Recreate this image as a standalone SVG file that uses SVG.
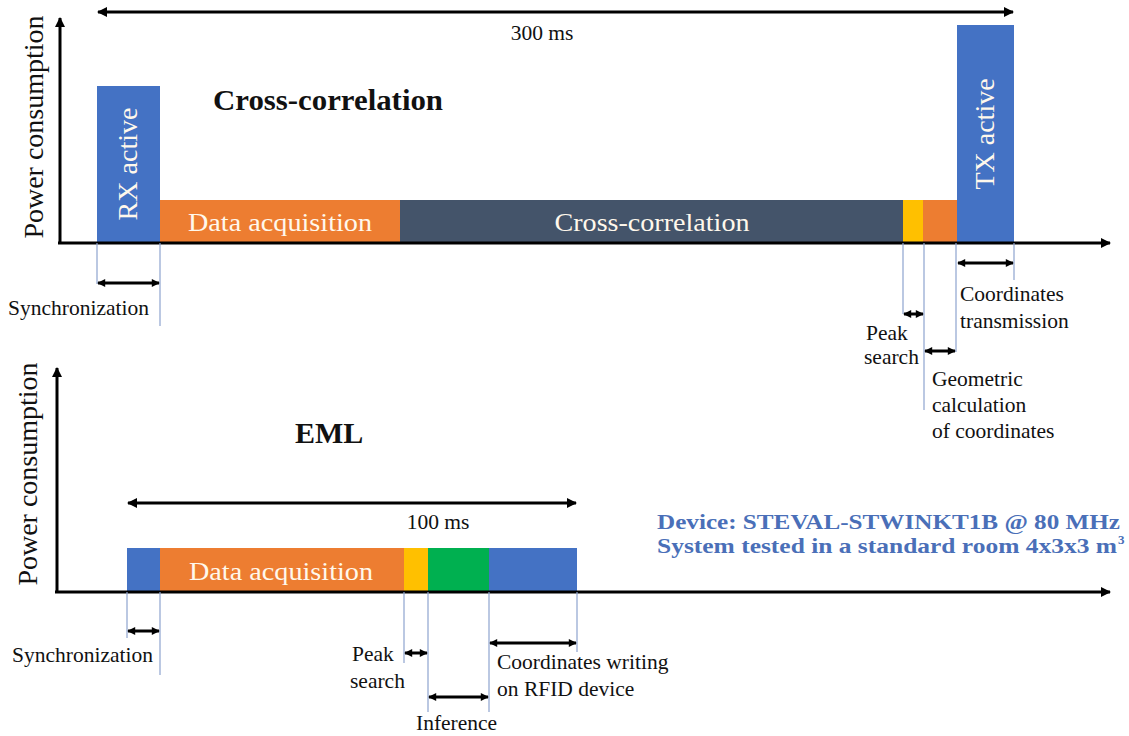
<svg xmlns="http://www.w3.org/2000/svg" width="1129" height="736" viewBox="0 0 1129 736">
<style>
  text { font-family: "Liberation Serif", "Times New Roman", serif; fill: #111; }
  .lbl { font-size: 21.5px; }
  .box { font-size: 26px; fill: #FFF8EC; }
  .vbox { font-size: 28px; fill: #FFF8EC; }
  .pc { font-size: 28px; }
  .ttl { font-size: 30px; font-weight: bold; }
  .axis { stroke: #000; stroke-width: 3; fill: none; }
  .dim { stroke: #000; stroke-width: 3; fill: none; marker-start: url(#ah); marker-end: url(#ah); }
  .big { stroke: #000; stroke-width: 3; fill: none; marker-start: url(#ahb); marker-end: url(#ahb); }
  .guide { stroke: #8EA3CF; stroke-width: 1.2; fill: none; }
  .blue { fill: #4472C4; } .orange { fill: #ED7D31; } .dark { fill: #44546A; }
  .yellow { fill: #FFC000; } .green { fill: #00B050; }
  .info { font-size: 22px; font-weight: bold; fill: #4A6FB8; }
</style>
<defs>
  <marker id="ah" viewBox="0 0 10 10" refX="9" refY="5" markerWidth="9" markerHeight="8" markerUnits="userSpaceOnUse" orient="auto-start-reverse">
    <path d="M0,0 L10,5 L0,10 z" fill="#000"/>
  </marker>
  <marker id="ahb" viewBox="0 0 10 10" refX="9" refY="5" markerWidth="12" markerHeight="10" markerUnits="userSpaceOnUse" orient="auto-start-reverse">
    <path d="M0,0 L10,5 L0,10 z" fill="#000"/>
  </marker>
  <marker id="ax" viewBox="0 0 10 10" refX="9" refY="5" markerWidth="12" markerHeight="10" markerUnits="userSpaceOnUse" orient="auto">
    <path d="M0,0 L10,5 L0,10 z" fill="#000"/>
  </marker>
</defs>

<!-- Top chart -->
<g id="top-bars">
  <rect class="blue" x="97" y="86" width="63" height="157"/>
  <rect class="orange" x="160" y="200" width="241" height="43"/>
  <rect class="dark" x="400" y="200" width="503" height="43"/>
  <rect class="yellow" x="903" y="200" width="21" height="43"/>
  <rect class="orange" x="923" y="200" width="34" height="43"/>
  <rect class="blue" x="957" y="25" width="57" height="218"/>
  <text class="vbox" transform="translate(137,164) rotate(-90)" text-anchor="middle">RX active</text>
  <text class="box" x="280" y="231" text-anchor="middle" textLength="184" lengthAdjust="spacingAndGlyphs">Data acquisition</text>
  <text class="box" x="652" y="231" text-anchor="middle" textLength="195" lengthAdjust="spacingAndGlyphs">Cross-correlation</text>
  <text class="vbox" transform="translate(994,134) rotate(-90)" text-anchor="middle">TX active</text>
</g>
<g id="top-axes">
  <line class="axis" x1="60" y1="243" x2="60" y2="18" marker-end="url(#ax)"/>
  <line class="axis" x1="58" y1="243" x2="1110" y2="243" marker-end="url(#ax)"/>
  <text class="pc" transform="translate(43,127) rotate(-90)" text-anchor="middle">Power consumption</text>
  <text class="ttl" x="213" y="110" textLength="230" lengthAdjust="spacingAndGlyphs">Cross-correlation</text>
</g>

<!-- Bottom chart -->
<g id="bottom-bars">
  <rect class="blue" x="127" y="548" width="34" height="44"/>
  <rect class="orange" x="160" y="548" width="245" height="44"/>
  <rect class="yellow" x="404" y="548" width="25" height="44"/>
  <rect class="green" x="428" y="548" width="62" height="44"/>
  <rect class="blue" x="489" y="548" width="88" height="44"/>
  <text class="box" x="281" y="580" text-anchor="middle" textLength="184" lengthAdjust="spacingAndGlyphs">Data acquisition</text>
</g>
<g id="bottom-axes">
  <line class="axis" x1="57" y1="592" x2="57" y2="368" marker-end="url(#ax)"/>
  <line class="axis" x1="55" y1="592" x2="1110" y2="592" marker-end="url(#ax)"/>
  <text class="pc" transform="translate(37,474) rotate(-90)" text-anchor="middle">Power consumption</text>
  <text class="ttl" x="295" y="443">EML</text>
</g>

<g id="info">
  <text class="info" x="657" y="529" textLength="463" lengthAdjust="spacingAndGlyphs">Device: STEVAL-STWINKT1B @ 80 MHz</text>
  <text class="info" x="657" y="553" textLength="460" lengthAdjust="spacingAndGlyphs">System tested in a standard room 4x3x3 m</text>
  <text class="info" x="1118" y="544" style="font-size:13px">3</text>
</g>

<!-- connectors -->
<g id="connectors">
  <line class="big" x1="98" y1="12" x2="1013" y2="12"/>
  <line class="guide" x1="97" y1="243" x2="97" y2="284"/>
  <line class="guide" x1="160" y1="243" x2="160" y2="326"/>
  <line class="dim" x1="98" y1="283" x2="159" y2="283"/>
  <line class="guide" x1="903" y1="243" x2="903" y2="314"/>
  <line class="guide" x1="924" y1="243" x2="924" y2="410"/>
  <line class="guide" x1="956" y1="243" x2="956" y2="352"/>
  <line class="guide" x1="1014" y1="243" x2="1014" y2="280"/>
  <line class="dim" x1="904" y1="314" x2="923" y2="314"/>
  <line class="dim" x1="925" y1="351" x2="955" y2="351"/>
  <line class="dim" x1="958" y1="263" x2="1013" y2="263"/>
  <line class="big" x1="128" y1="503" x2="576" y2="503"/>
  <line class="guide" x1="127" y1="592" x2="127" y2="638"/>
  <line class="guide" x1="160" y1="592" x2="160" y2="675"/>
  <line class="dim" x1="128" y1="631" x2="159" y2="631"/>
  <line class="guide" x1="404" y1="592" x2="404" y2="663"/>
  <line class="guide" x1="428" y1="592" x2="428" y2="712"/>
  <line class="guide" x1="489" y1="592" x2="489" y2="712"/>
  <line class="guide" x1="577" y1="592" x2="577" y2="652"/>
  <line class="dim" x1="405" y1="653" x2="427" y2="653"/>
  <line class="dim" x1="429" y1="697" x2="488" y2="697"/>
  <line class="dim" x1="490" y1="643" x2="576" y2="643"/>
</g>

<g id="labels">
  <text class="lbl" x="542" y="40" text-anchor="middle">300 ms</text>
  <text class="lbl" x="8" y="315">Synchronization</text>
  <text class="lbl" x="960" y="301">Coordinates</text>
  <text class="lbl" x="960" y="328">transmission</text>
  <text class="lbl" x="866" y="340">Peak</text>
  <text class="lbl" x="864" y="364">search</text>
  <text class="lbl" x="932" y="386">Geometric</text>
  <text class="lbl" x="932" y="412">calculation</text>
  <text class="lbl" x="932" y="438">of coordinates</text>
  <text class="lbl" x="438" y="529" text-anchor="middle">100 ms</text>
  <text class="lbl" x="12" y="662">Synchronization</text>
  <text class="lbl" x="352" y="661">Peak</text>
  <text class="lbl" x="350" y="688">search</text>
  <text class="lbl" x="416" y="730">Inference</text>
  <text class="lbl" x="497" y="669">Coordinates writing</text>
  <text class="lbl" x="497" y="696">on RFID device</text>
</g>
</svg>
